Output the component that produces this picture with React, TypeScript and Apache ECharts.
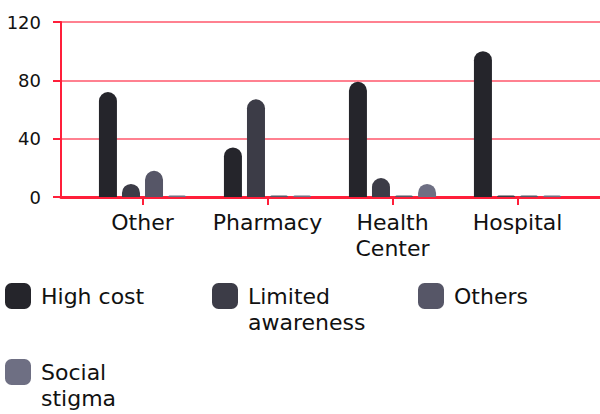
import React, { useEffect, useRef } from "react";
import * as echarts from "echarts";

const categories = ["Other", "Pharmacy", "Health\nCenter", "Hospital"];
const seriesNames = ["High cost", "Limited awareness", "Others", "Social stigma"];
const highCost = [72, 34, 79, 100];
const limitedAwareness = [9, 67, 13, 0];
const others = [18, 0, 0, 0];
const socialStigma = [0, 0, 9, 0];
const yTicks = [0, 40, 80, 120];
const colors = ["#25252b", "#3c3c47", "#565667", "#6e6f83"];

const FONT = "DejaVu Sans";
const RED = "#ff1f3a";

export default function App() {
  const ref = useRef<HTMLDivElement>(null);
  useEffect(() => {
    if (!ref.current) return;
    const chart = echarts.init(ref.current, undefined, { renderer: "svg" });
    const values = [highCost, limitedAwareness, others, socialStigma];
    const legendLabels = ["High cost", "\nLimited\nawareness", "Others", "\nSocial\nstigma"];
    const legendPos = [
      { left: 5, top: 283 },
      { left: 212, top: 283 },
      { left: 418, top: 283 },
      { left: 5, top: 359 },
    ];
    const legends = seriesNames.map((name, i) => {
      const threeLine = legendLabels[i].startsWith("\n");
      return {
        data: [name],
        left: legendPos[i].left,
        top: threeLine ? legendPos[i].top + 13 - 39 : legendPos[i].top,
        padding: 0,
        icon: "roundRect",
        itemWidth: 26,
        itemHeight: 26,
        formatter: () => legendLabels[i],
        textStyle: {
          fontFamily: FONT,
          fontSize: 22,
          color: "#111",
          lineHeight: 26,
          padding: [0, 0, 0, 5],
        },
        selectedMode: false,
      };
    });
    chart.setOption({
      animation: false,
      color: colors,
      textStyle: { fontFamily: FONT },
      legend: legends,
      grid: [
        { left: 61, right: 0, top: 22, bottom: 217 },
        { left: 80, right: 20, top: 22, bottom: 217 },
      ],
      xAxis: [
        {
          gridIndex: 0,
          type: "value",
          min: 0,
          max: 1,
          axisLine: { show: true, onZero: false, lineStyle: { color: RED, width: 3 } },
          axisTick: { show: false },
          axisLabel: { show: false },
          splitLine: { show: false },
        },
        {
          gridIndex: 1,
          type: "category",
          data: categories,
          axisLine: { show: false },
          axisTick: {
            show: true,
            interval: 0,
            alignWithLabel: true,
            length: 8,
            lineStyle: { color: RED, width: 2 },
          },
          axisLabel: {
            interval: 0,
            hideOverlap: false,
            fontFamily: FONT,
            fontSize: 22,
            color: "#111",
            margin: 12,
            lineHeight: 26,
          },
        },
      ],
      yAxis: [
        {
          gridIndex: 0,
          type: "value",
          min: 0,
          max: 120,
          interval: 40,
          axisLine: { show: true, lineStyle: { color: RED, width: 2 } },
          axisTick: { show: true, length: 8, lineStyle: { color: RED, width: 2 } },
          axisLabel: {
            fontFamily: FONT,
            fontSize: 18,
            color: "#111",
            margin: 20,
            formatter: (v: number) => (yTicks.includes(v) ? String(v) : ""),
          },
          splitLine: { show: true, lineStyle: { color: "rgba(255,45,70,0.8)", width: 1.5 } },
        },
        {
          gridIndex: 1,
          type: "value",
          min: 0,
          max: 120,
          interval: 40,
          show: false,
          splitLine: { show: false },
        },
      ],
      series: seriesNames.map((name, i) => ({
        name,
        type: "bar",
        xAxisIndex: 1,
        yAxisIndex: 1,
        data: values[i],
        barWidth: 18,
        barGap: "28%",
        barMinHeight: 1.5,
        itemStyle: { color: colors[i], borderRadius: [9, 9, 0, 0] },
      })),
    });
    return () => chart.dispose();
  }, []);
  return (
    <div
      ref={ref}
      style={{ position: "fixed", left: 0, top: 0, width: 600, height: 414, background: "#fff" }}
    />
  );
}
